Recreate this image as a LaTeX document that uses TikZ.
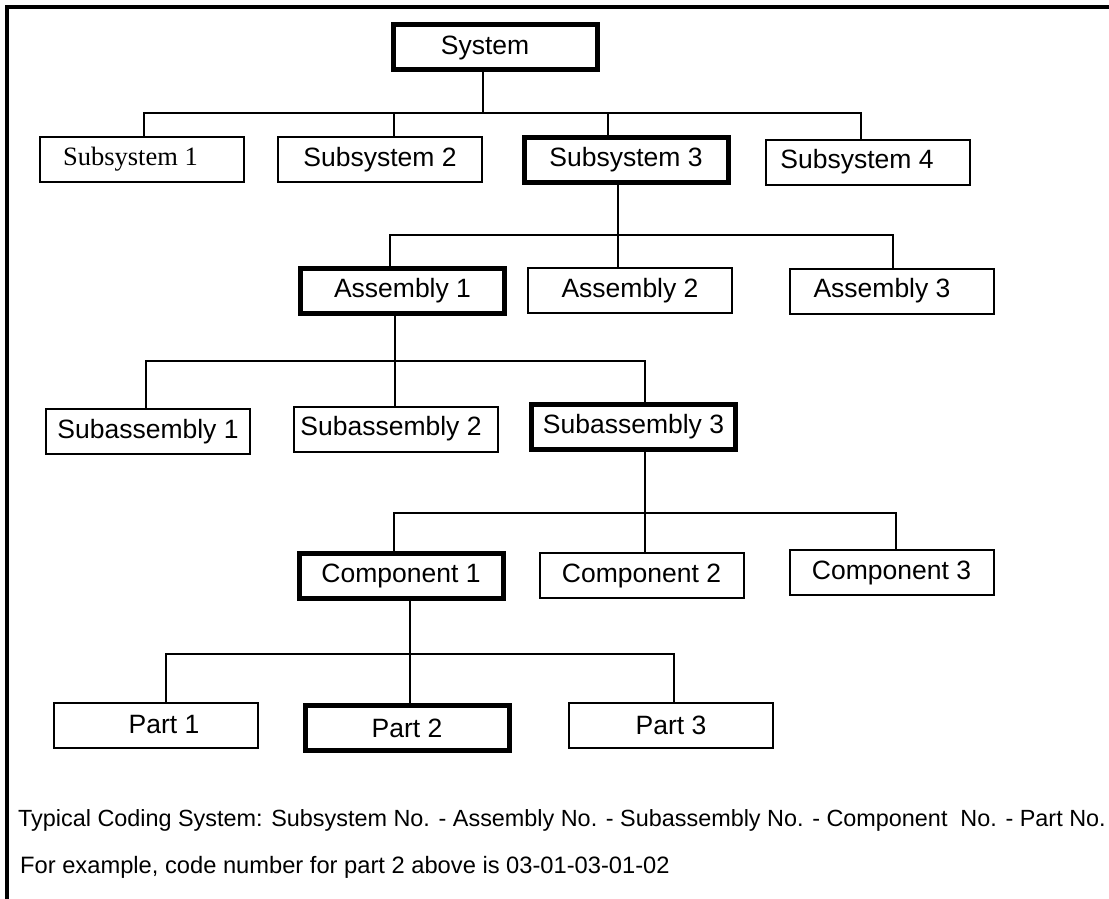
\documentclass[tikz,border=0pt]{standalone}
\usepackage{fontspec}
\setmainfont{Liberation Sans}
\newfontfamily\timesfont{Liberation Serif}
\newcommand\chartfont{\fontsize{26.5}{30}\selectfont}
\newcommand\notefont{\fontsize{23.7}{28}\selectfont}

\begin{document}
\begin{tikzpicture}[x=1pt,y=-1pt,
    box/.style={draw, line width=2pt, minimum width=204pt, minimum height=45pt,
                inner sep=0pt, font=\chartfont},
    thickbox/.style={box, line width=5pt},
    link/.style={line width=2pt}]

        \useasboundingbox (0,0) rectangle (1109,899);
        \draw[line width=3.5pt] (7,899) -- (7,7) -- (1109,7);

        % tree levels
        \node[thickbox] (sys)  at (495,47.5)  {System\hspace*{20pt}};

        \node[box]      (sub1) at (141.5,159.5) {\timesfont Subsystem 1\hspace*{22pt}};
        \node[box]      (sub2) at (380,159.5)   {Subsystem 2};
        \node[thickbox] (sub3) at (626,160)     {Subsystem 3};
        \node[box]      (sub4) at (868,162)     {Subsystem 4\hspace*{22pt}};

        \node[thickbox] (asm1) at (402.5,290.5) {Assembly 1};
        \node[box]      (asm2) at (630,290.5)   {Assembly 2};
        \node[box]      (asm3) at (892,291)     {Assembly 3\hspace*{20pt}};

        \node[box]      (sab1) at (148,431.5)   {Subassembly 1};
        \node[box]      (sab2) at (396,429)     {Subassembly 2\hspace*{10pt}};
        \node[thickbox] (sab3) at (633.5,426.5) {Subassembly 3};

        \node[thickbox] (com1) at (401,575.5)   {Component 1};
        \node[box]      (com2) at (641.5,575.5) {Component 2};
        \node[box]      (com3) at (891.5,572.5) {Component 3};

        \node[box]      (part1) at (156,725)    {\hspace*{16pt}Part 1};
        \node[thickbox] (part2) at (407,728)    {Part 2};
        \node[box]      (part3) at (671,725)    {Part 3};

        % bus points
        \coordinate (s0) at (483,113);
        \coordinate (s1) at (144,113);
        \coordinate (s2) at (394,113);
        \coordinate (s3) at (608,113);
        \coordinate (s4) at (861,113);

        \coordinate (a1) at (390,235);
        \coordinate (a2) at (618,235);
        \coordinate (a3) at (893,235);

        \coordinate (b1) at (146,361);
        \coordinate (b2) at (395,361);
        \coordinate (b3) at (645,361);

        \coordinate (c1) at (394,513);
        \coordinate (c2) at (645,513);
        \coordinate (c3) at (896,513);

        \coordinate (d1) at (166,654);
        \coordinate (d2) at (410,654);
        \coordinate (d3) at (674,654);

        \begin{scope}[link]
          \draw (s0 |- sys.south) -- (s0);
          \draw (s1 |- sub1.north) -- (s1) -- (s4) -- (s4 |- sub4.north);
          \draw (s2) -- (s2 |- sub2.north);
          \draw (s3) -- (s3 |- sub3.north);

          \draw (a2 |- sub3.south) -- (a2 |- asm2.north);
          \draw (a1 |- asm1.north) -- (a1) -- (a3) -- (a3 |- asm3.north);

          \draw (b2 |- asm1.south) -- (b2 |- sab2.north);
          \draw (b1 |- sab1.north) -- (b1) -- (b3) -- (b3 |- sab3.north);

          \draw (c2 |- sab3.south) -- (c2 |- com2.north);
          \draw (c1 |- com1.north) -- (c1) -- (c3) -- (c3 |- com3.north);

          \draw (d2 |- com1.south) -- (d2 |- part2.north);
          \draw (d1 |- part1.north) -- (d1) -- (d3) -- (d3 |- part3.north);
        \end{scope}

        % coding note
        \node[anchor=west, inner sep=0pt, font=\fontsize{23.4}{28}\selectfont] (code) at (18,820)
          {Typical Coding System: Subsystem No. - Assembly No. - Subassembly No. - Component\ \ No. - Part No.};
        \node[anchor=west, inner sep=0pt, font=\notefont] (example) at (20,867)
          {For example, code number for part 2 above is 03-01-03-01-02};

      \end{tikzpicture}
\end{document}
